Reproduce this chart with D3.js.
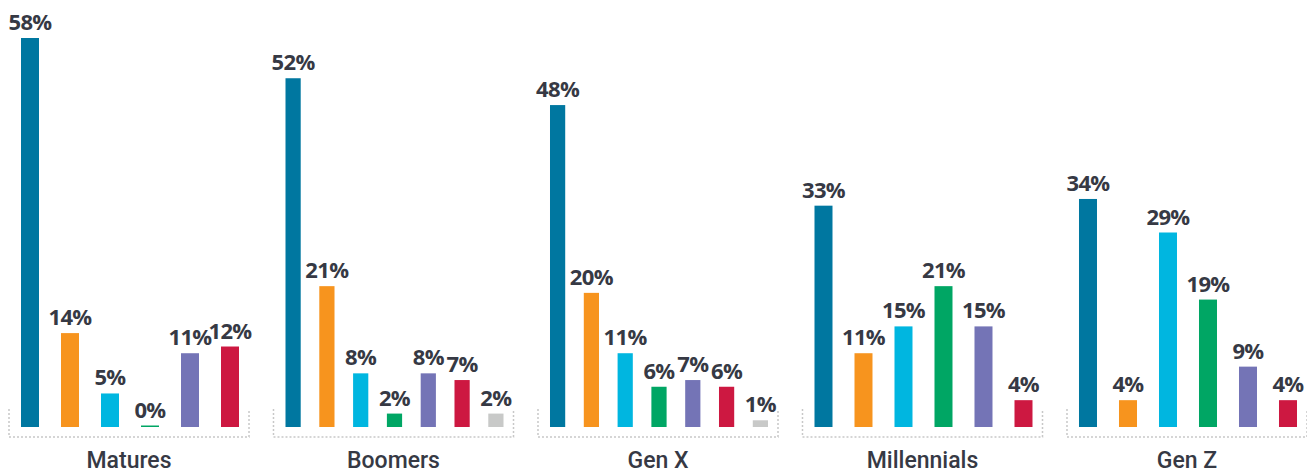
<!DOCTYPE html>
<html>
<head>
<meta charset="utf-8">
<script src="https://cdn.jsdelivr.net/npm/d3@7"></script>
<style>
  body { margin: 0; background: #ffffff; }
  .value-label { font-family: "Open Sans", sans-serif; font-weight: 700; font-size: 22px; letter-spacing: -0.6px; fill: #363944; }
  .group-label { font-family: Roboto, "Open Sans", sans-serif; font-weight: 500; font-size: 23px; fill: #363944; }
</style>
</head>
<body>
<div id="chart"></div>
<script>
// Chart data
// ==========
var generations = ["Matures", "Boomers", "Gen X", "Millennials", "Gen Z"];
var seriesKeys = ["s1", "s2", "s3", "s4", "s5", "s6", "s7"];
var seriesColors = ["#0077a0", "#f7941e", "#00b6e0", "#00a664", "#7474b6", "#cd1841", "#c8c9c8"];

// one array per series, null where a generation has no bar
var s1 = [58, 52, 48, 33, 34];
var s2 = [14, 21, 20, 11, 4];
var s3 = [5, 8, 11, 15, 29];
var s4 = [0, 2, 6, 21, 19];
var s5 = [11, 8, 7, 15, 9];
var s6 = [12, 7, 6, 4, 4];
var s7 = [null, 2, 1, null, null];
var seriesValues = [s1, s2, s3, s4, s5, s6, s7];

// SVG dimensions
// ==============
var svgWidth = 1307;
var svgHeight = 475;
var baseline = 427;

var svg = d3.select("#chart")
    .append("svg")
    .attr("width", svgWidth)
    .attr("height", svgHeight);

// Scales
// ======
var xGroup = d3.scaleBand()
    .domain(generations)
    .range([9, 1307])
    .paddingInner(0.0926)
    .paddingOuter(0);

var yScale = d3.scaleLinear()
    .domain([0, 58])
    .range([baseline, 38]);

var color = d3.scaleOrdinal().domain(seriesKeys).range(seriesColors);

// Draw each generation group
// ==========================
generations.forEach(function(gen, gi) {
    var x0 = xGroup(gen);
    var w = xGroup.bandwidth();

    var rows = seriesKeys
        .map(function(key, si) { return { key: key, value: seriesValues[si][gi] }; })
        .filter(function(d) { return d.value !== null; });

    var xInner = d3.scaleBand()
        .domain(rows.map(function(d) { return d.key; }))
        .range([12, 230])
        .paddingInner(0.55)
        .paddingOuter(0);

    var g = svg.append("g")
        .attr("transform", "translate(" + x0 + ",0)");

    // dotted bracket under the bars
    g.append("path")
        .attr("d", "M0,409V437H" + w + "V409")
        .attr("fill", "none")
        .attr("stroke", "#c8c8c8")
        .attr("stroke-width", 1.5)
        .attr("stroke-dasharray", "2,2");

    // bars
    g.selectAll("rect")
        .data(rows)
        .enter()
        .append("rect")
        .attr("x", function(d) { return xInner(d.key); })
        .attr("width", xInner.bandwidth())
        .attr("y", function(d) { return Math.min(yScale(d.value), baseline - 1.5); })
        .attr("height", function(d) { return Math.max(baseline - yScale(d.value), 1.5); })
        .attr("fill", function(d) { return color(d.key); });

    // value labels
    g.selectAll("text.value-label")
        .data(rows)
        .enter()
        .append("text")
        .attr("class", "value-label")
        .attr("x", function(d) { return xInner(d.key) + xInner.bandwidth() / 2; })
        .attr("y", function(d) { return Math.min(yScale(d.value), baseline - 1.5) - 8; })
        .attr("text-anchor", "middle")
        .text(function(d) { return d.value + "%"; });

    // generation label
    g.append("text")
        .attr("class", "group-label")
        .attr("x", w / 2)
        .attr("y", 468)
        .attr("text-anchor", "middle")
        .text(gen);
});
</script>
</body>
</html>
